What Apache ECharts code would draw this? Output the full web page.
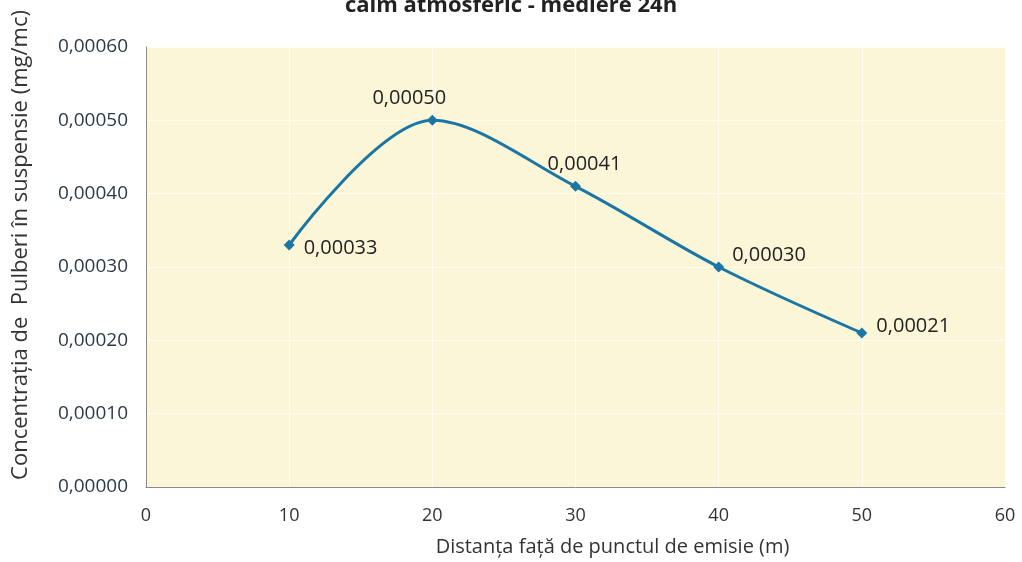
<!DOCTYPE html>
<html><head><meta charset="utf-8">
<script src="https://cdn.jsdelivr.net/npm/echarts@6/dist/echarts.min.js"></script>
<style>html,body{margin:0;padding:0;background:#fff}#c{width:1022px;height:562px}</style>
</head><body><div id="c"></div>
<script>
const titleText = 'calm atmosferic - mediere 24h';
const xName = 'Distanța față de punctul de emisie (m)';
const yName = 'Concentrația de  Pulberi în suspensie (mg/mc)';
const distances = [10, 20, 30, 40, 50];
const concentrations = [0.00033, 0.00050, 0.00041, 0.00030, 0.00021];
const labelPlacements = [
  {position: 'right', offset: [4, 3]},
  {position: 'top', offset: [-23, -2]},
  {position: 'top', offset: [9, -2]},
  {position: 'right', offset: [3, -12]},
  {position: 'right', offset: [4, -7]}
];
const fmt = v => v.toFixed(5).replace('.', ',');
const chart = echarts.init(document.getElementById('c'));
chart.setOption({
  backgroundColor: '#ffffff',
  animation: false,
  title: {text: titleText, left: 'center', top: -10,
    textStyle: {fontFamily: 'Open Sans', fontSize: 22, fontWeight: 'bold', color: '#222'}},
  grid: {left: 146, right: 17, top: 47, bottom: 73, show: true,
    backgroundColor: '#fcf6d9', borderWidth: 0},
  xAxis: {type: 'value', min: 0, max: 60, interval: 10,
    name: xName, nameLocation: 'middle', nameGap: 50,
    nameTextStyle: {fontFamily: 'Open Sans', fontSize: 20, color: '#333', padding: [0, 0, 0, 74]},
    axisLine: {show: true, lineStyle: {color: '#8a8a8a', width: 1}},
    axisTick: {show: false},
    axisLabel: {margin: 20, fontFamily: 'Open Sans', fontSize: 18, color: '#333'},
    splitLine: {show: true, lineStyle: {color: '#fffdf2', width: 1}}},
  yAxis: {type: 'value', min: 0, max: 0.0006, interval: 0.0001,
    name: yName, nameLocation: 'middle', nameGap: 114,
    nameTextStyle: {fontFamily: 'Open Sans', fontSize: 22, color: '#333', padding: [0, 0, 0, 44]},
    axisLine: {show: true, lineStyle: {color: '#8a8a8a', width: 1}},
    axisTick: {show: false},
    axisLabel: {margin: 18, fontFamily: 'Open Sans', fontSize: 19, color: '#2c3a48', formatter: fmt},
    splitLine: {show: true, lineStyle: {color: '#fffdf2', width: 1}}},
  series: [{
    type: 'line', smooth: 0.33,
    data: distances.map((d, i) => ({value: [d, concentrations[i]], label: labelPlacements[i]})),
    symbol: 'diamond', symbolSize: 11,
    lineStyle: {color: '#1c76a3', width: 3},
    itemStyle: {color: '#1c76a3'},
    label: {show: true, fontFamily: 'Open Sans', fontSize: 20, color: '#222',
      formatter: p => fmt(p.value[1])}
  }]
});
</script></body></html>
